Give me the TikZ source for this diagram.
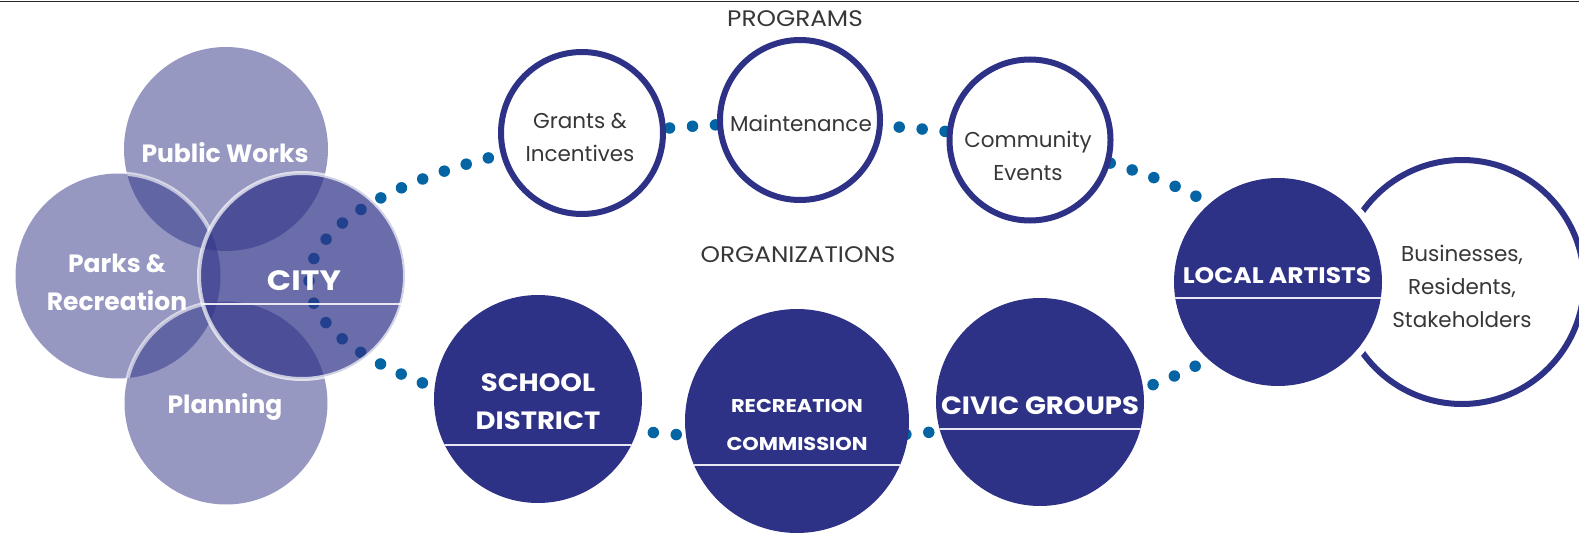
\documentclass[tikz,border=0pt]{standalone}
\usepackage{fontspec}
\setmainfont{Poppins}
\definecolor{navy}{RGB}{46,50,134}
\definecolor{dotblue}{RGB}{4,100,164}
\definecolor{txt}{RGB}{55,55,55}
\definecolor{rule}{RGB}{40,40,40}
\definecolor{chordc}{RGB}{232,232,244}
\tikzset{
  every node/.style={inner sep=0pt, outer sep=0pt},
  dotring/.style={dotblue, line width=11.5pt, line cap=round, dash pattern=on 0pt off 22.99pt, dash phase=11.3pt},
  lightfill/.style={fill=navy, fill opacity=.5},
  lightedge/.style={draw=white, draw opacity=.6, line width=4pt},
  progc/.style={circle, draw=navy, line width=6pt, fill=white},
  orgc/.style={circle, fill=navy},
  chord/.style={draw=chordc, line width=2pt},
  regtxt/.style={text=txt, align=center, font=\fontsize{21.5}{33}\selectfont},
  headtxt/.style={text=txt, align=center, font=\fontsize{22.5}{30}\selectfont\addfontfeatures{FakeStretch=1.1}},
  boldtxt/.style={text=white, align=center, font=\bfseries\fontsize{25}{38}\selectfont},
  capbold/.style={text=white, align=center, font=\bfseries\fontsize{25}{38}\selectfont\addfontfeatures{FakeStretch=1.1}},
}
\begin{document}
\begin{tikzpicture}[x=1pt,y=-1pt]
\useasboundingbox (0,0) rectangle (1579,535);
\draw[rule, line width=1.5pt] (0,1.5) -- (1579,1.5);

% dotted loop behind all circles (three clipped parts with their own dot phase)
\coordinate (loopc) at (790,281);
\begin{scope}
  \clip (0,0) rectangle (540,535) (540,0) rectangle (1030,281);
  \draw[dotring] (loopc) ellipse [x radius=481, y radius=158];
\end{scope}
\begin{scope}
  \clip (540,281) rectangle (1579,535);
  \draw[dotring, dash phase=18.3pt] (loopc) ellipse [x radius=481, y radius=158];
\end{scope}
\begin{scope}
  \clip (1030,0) rectangle (1579,281);
  \draw[dotring, dash phase=3.8pt] (loopc) ellipse [x radius=481, y radius=158];
\end{scope}

% city cluster
\coordinate (pwc) at (226,149);
\coordinate (prc) at (118,276);
\coordinate (plc) at (226,403);
\coordinate (cic) at (302,276);
\fill[lightfill] (pwc) circle[radius=102];
\fill[lightfill] (prc) circle[radius=102.5];
\begin{scope}
  \clip (pwc) circle[radius=102];
  \draw[lightedge] (prc) circle[radius=102.5];
\end{scope}
\fill[lightfill] (plc) circle[radius=101.5];
\begin{scope}
  \clip (prc) circle[radius=102.5];
  \draw[lightedge] (plc) circle[radius=101.5];
\end{scope}
\begin{scope}
  \clip (cic) circle[radius=103];
  \fill[white] (cic) circle[radius=105];
  \fill[lightfill] (pwc) circle[radius=102];
  \fill[lightfill] (prc) circle[radius=102.5];
  \fill[lightfill] (plc) circle[radius=101.5];
  \draw[dotring] (loopc) ellipse [x radius=481, y radius=158];
  \fill[navy, fill opacity=.71] (cic) circle[radius=105];
  \draw[chord] (190,304) -- (420,304);
\end{scope}
\draw[draw=white, draw opacity=.7, line width=4pt] (cic) circle[radius=103];

\node[boldtxt] (pwt) at (225,153) {Public Works};
\node[boldtxt] (prt) at (117,282) {Parks \&\\Recreation};
\node[boldtxt] (plt) at (225,407) {Planning};
\node[capbold, font=\bfseries\fontsize{28}{34}\selectfont\addfontfeatures{FakeStretch=1.14}] (cit) at (304,281) {CITY};

% programs
\node[progc, minimum size=162pt] (grants) at (582,133) {};
\node[progc, minimum size=160pt] (maint) at (800,120) {};
\node[progc, minimum size=161pt] (comm) at (1030,140) {};
\node[regtxt] (grantst) at (580,137) {Grants \&\\Incentives};
\node[regtxt] (maintt) at (801,123) {Maintenance};
\node[regtxt] (commt) at (1028,156) {Community\\Events};
\node[headtxt] (progt) at (795,19) {PROGRAMS};

% stakeholders ring
\node[circle, draw=navy, line width=6pt, fill=white, minimum size=244pt] (biz) at (1462,282) {};
\node[regtxt] (bizt) at (1462,286) {Businesses,\\Residents,\\Stakeholders};

% organizations
\node[orgc, minimum size=208pt] (school) at (538,399) {};
\node[orgc, minimum size=224pt] (rec) at (797,421) {};
\node[orgc, minimum size=208pt] (civic) at (1040,402) {};
\draw[white, line width=7pt] (1278,282) circle[radius=107.5];
\node[orgc, minimum size=208pt] (local) at (1278,282) {};

\begin{scope}\clip (school.center) circle[radius=104];
  \draw[chord] (420,445) -- (660,445);\end{scope}
\begin{scope}\clip (rec.center) circle[radius=112];
  \draw[chord] (680,465) -- (920,465);\end{scope}
\begin{scope}\clip (civic.center) circle[radius=104];
  \draw[chord] (930,429) -- (1150,429);\end{scope}
\begin{scope}\clip (local.center) circle[radius=104];
  \draw[chord] (1170,298) -- (1390,298);\end{scope}

\node[capbold, font=\bfseries\fontsize{25}{38}\selectfont\addfontfeatures{FakeStretch=1.1}] (schoolt) at (538,402) {SCHOOL\\DISTRICT};
\node[capbold, font=\bfseries\fontsize{18.5}{38}\selectfont\addfontfeatures{FakeStretch=1.13}] (rect) at (797,425) {RECREATION\\COMMISSION};
\node[capbold] (civict) at (1040,406) {CIVIC GROUPS};
\node[capbold, font=\bfseries\fontsize{22.5}{30}\selectfont\addfontfeatures{FakeStretch=1.11}] (localt) at (1277,276) {LOCAL ARTISTS};
\node[headtxt] (orgt) at (798,255) {ORGANIZATIONS};
\end{tikzpicture}
\end{document}
